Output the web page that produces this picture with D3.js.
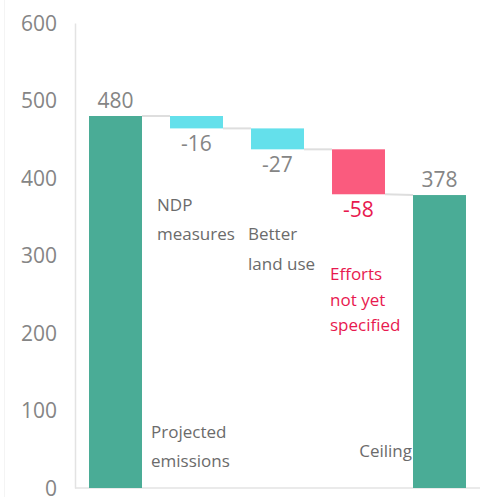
<!DOCTYPE html>
<html>
<head>
<meta charset="utf-8">
<script src="https://cdn.jsdelivr.net/npm/d3@7"></script>
<style>
  body { margin: 0; background: #fff; }
  svg { display: block; font-family: "Open Sans", Lato, sans-serif; }
</style>
</head>
<body>
<div id="chart"></div>
<script>
// waterfall data
var categories = ['Projected emissions', 'NDP measures', 'Better land use', 'Efforts not yet specified', 'Ceiling'];
var values = [480, -16, -27, -58, 378];
var kinds = ['total', 'step', 'step', 'gap', 'total'];
var yTicks = [0, 100, 200, 300, 400, 500, 600];

var width = 487;
var height = 497;

var colors = {total: '#4aac96', step: '#64e0eb', gap: '#fa5b7e'};
var textGray = '#858585';
var labelGray = '#6b6b6b';
var red = '#e8194f';

var svg = d3.select('#chart').append('svg')
    .attr('width', width)
    .attr('height', height);

var x = d3.scaleBand()
    .domain(categories)
    .range([75, 480])
    .paddingInner(0.346)
    .paddingOuter(0.173);

var y = d3.scaleLinear()
    .domain([0, 600])
    .range([488, 23]);

// running totals -> bar extents
var bars = [];
var running = 0;
values.forEach(function(v, i) {
    var d = {cat: categories[i], val: v, kind: kinds[i]};
    if (kinds[i] === 'total') {
        d.y0 = 0; d.y1 = v;
    } else {
        d.y0 = running; d.y1 = running + v;
    }
    running = d.y1;
    bars.push(d);
});

// faint frame line on the far left
svg.append('line')
    .attr('x1', 4.5).attr('x2', 4.5)
    .attr('y1', 0).attr('y2', height)
    .attr('stroke', '#f4f4f4');

// axis
var yAxis = d3.axisLeft(y).tickValues(yTicks).tickSize(0).tickPadding(18);
var ag = svg.append('g')
    .attr('transform', 'translate(75,0)')
    .call(yAxis);
ag.select('.domain').attr('stroke', '#e3e3e3').attr('stroke-width', 1.5);
ag.selectAll('text')
    .attr('fill', textGray)
    .attr('dy', '0.34em')
    .style('font-size', '21px')
    .style('font-family', '"Open Sans", Lato, sans-serif');

// baseline
svg.append('line')
    .attr('x1', 75).attr('x2', 480)
    .attr('y1', y(0)).attr('y2', y(0))
    .attr('stroke', '#e3e3e3')
    .attr('stroke-width', 1.5);

// connectors
var conns = [];
for (var i = 0; i < bars.length - 1; i++) {
    var a = bars[i], b = bars[i + 1];
    var startB = b.kind === 'total' ? b.y1 : b.y0;
    conns.push({x1: x(a.cat) + x.bandwidth(), y1: a.y1, x2: x(b.cat), y2: startB});
}
svg.append('g').selectAll('line')
    .data(conns)
    .enter()
    .append('line')
        .attr('x1', function(d) { return d.x1; })
        .attr('x2', function(d) { return d.x2; })
        .attr('y1', function(d) { return y(d.y1); })
        .attr('y2', function(d) { return y(d.y2); })
        .attr('stroke', '#dedede')
        .attr('stroke-width', 2);

svg.append('g').selectAll('rect')
    .data(bars)
    .enter()
    .append('rect')
        .attr('x', function(d) { return x(d.cat); })
        .attr('y', function(d) { return y(Math.max(d.y0, d.y1)); })
        .attr('width', x.bandwidth())
        .attr('height', function(d) { return Math.abs(y(d.y0) - y(d.y1)); })
        .attr('fill', function(d) { return colors[d.kind]; });

// value labels: totals above, steps below
svg.append('g').selectAll('text')
    .data(bars)
    .enter()
    .append('text')
        .attr('x', function(d) { return x(d.cat) + x.bandwidth() / 2; })
        .attr('y', function(d) {
            if (d.kind === 'total') return y(d.y1) - 8;
            return y(Math.min(d.y0, d.y1)) + 23;
        })
        .attr('text-anchor', 'middle')
        .attr('fill', function(d) { return d.kind === 'gap' ? red : textGray; })
        .style('font-size', '21px')
        .text(function(d) { return d.val; });

// category labels, wrapped
var catLines = [['Projected', 'emissions'], ['NDP', 'measures'], ['Better', 'land use'], ['Efforts', 'not yet', 'specified'], ['Ceiling']];
var catPlace = [
    {dx: 62, y: 438, lh: 29, anchor: 'start'},
    {dx: -13, y: 211, lh: 29, anchor: 'start'},
    {dx: -3, y: 240, lh: 30, anchor: 'start'},
    {dx: -2, y: 280, lh: 25.5, anchor: 'start'},
    {dx: -1, y: 457, lh: 29, anchor: 'end'}
];
categories.forEach(function(c, i) {
    var p = catPlace[i];
    var t = svg.append('text')
        .attr('x', x(c) + p.dx)
        .attr('y', p.y)
        .attr('text-anchor', p.anchor)
        .attr('fill', kinds[i] === 'gap' ? red : labelGray)
        .style('font-size', '17px');
    catLines[i].forEach(function(line, j) {
        t.append('tspan')
            .attr('x', x(c) + p.dx)
            .attr('y', p.y + j * p.lh)
            .text(line);
    });
});
</script>
</body>
</html>
